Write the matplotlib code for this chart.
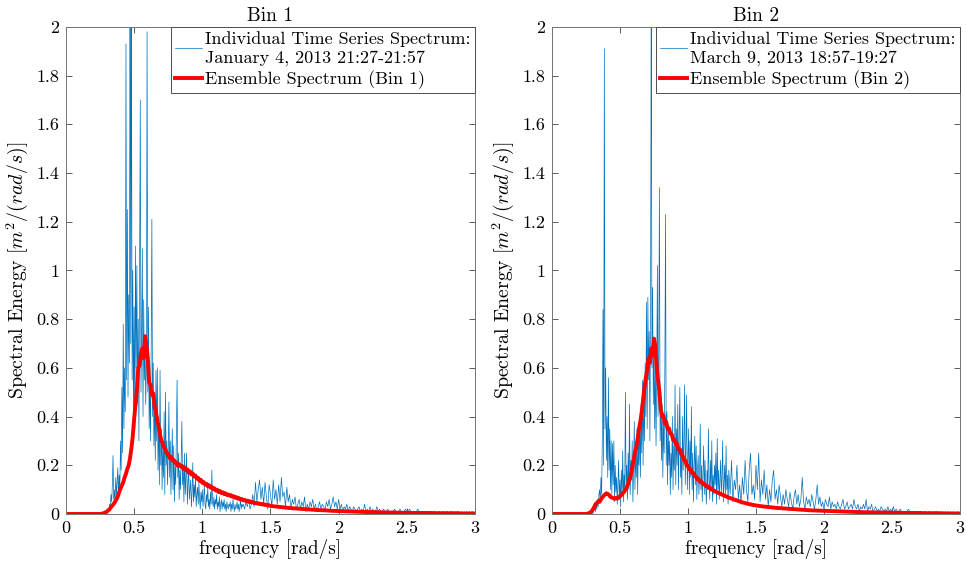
import numpy as np
import matplotlib
matplotlib.use("Agg")
import matplotlib.pyplot as plt
from matplotlib.ticker import FuncFormatter

# ---------------- data ----------------
titles = ["Bin 1", "Bin 2"]
blue_labels = ["Individual Time Series Spectrum:\nJanuary 4, 2013 21:27-21:57",
               "Individual Time Series Spectrum:\nMarch 9, 2013 18:57-19:27"]
red_labels = ["Ensemble Spectrum (Bin 1)", "Ensemble Spectrum (Bin 2)"]
xticks = [0, 0.5, 1, 1.5, 2, 2.5, 3]
yticks = [0, 0.2, 0.4, 0.6, 0.8, 1.0, 1.2, 1.4, 1.6, 1.8, 2.0]

# frequency grids for the individual spectra (rad/s)
f_ind = np.concatenate([np.linspace(0, 0.25, 6),
                        np.linspace(0.30, 1.295, 200),
                        np.linspace(1.30, 3.00, 171)])
# frequency grids for the ensemble spectra (rad/s)
f_ens = np.concatenate([np.linspace(0, 0.20, 5),
                        np.linspace(0.25, 1.49, 125),
                        np.linspace(1.50, 3.00, 31)])

bin1_ind_low = [0, 0, 0, 0, 0, 0]
bin1_ind_mid = [
    0.00, 0.01, 0.02, 0.01, 0.04, 0.03, 0.08, 0.05, 0.12, 0.24,
    0.06, 0.10, 0.04, 0.15, 0.08, 0.13, 0.19, 0.07, 0.16, 0.10,
    0.30, 0.18, 0.52, 0.25, 0.78, 0.35, 0.60, 0.42, 1.93, 0.55,
    1.25, 0.48, 0.90, 0.62, 2.30, 0.70, 2.20, 0.55, 1.00, 0.40,
    0.85, 0.35, 1.10, 0.60, 1.02, 0.45, 0.80, 0.30, 0.95, 1.70,
    0.50, 0.75, 1.09, 0.40, 0.88, 0.55, 0.70, 0.45, 0.62, 1.98,
    0.50, 0.85, 0.35, 0.55, 0.30, 0.70, 1.21, 0.40, 0.62, 0.28,
    0.45, 0.22, 0.59, 0.30, 0.60, 0.18, 0.40, 0.12, 0.59, 0.20,
    0.35, 0.10, 0.28, 0.15, 0.42, 0.08, 0.50, 0.20, 0.30, 0.12,
    0.25, 0.46, 0.15, 0.30, 0.08, 0.22, 0.35, 0.10, 0.28, 0.05,
    0.20, 0.12, 0.32, 0.55, 0.15, 0.25, 0.06, 0.18, 0.10, 0.22,
    0.38, 0.12, 0.20, 0.05, 0.25, 0.08, 0.15, 0.25, 0.04, 0.12,
    0.18, 0.06, 0.10, 0.14, 0.03, 0.09, 0.21, 0.05, 0.12, 0.07,
    0.15, 0.03, 0.08, 0.11, 0.04, 0.13, 0.06, 0.02, 0.09, 0.05,
    0.10, 0.03, 0.07, 0.12, 0.04, 0.02, 0.08, 0.05, 0.11, 0.03,
    0.06, 0.02, 0.09, 0.04, 0.18, 0.05, 0.03, 0.07, 0.02, 0.06,
    0.04, 0.08, 0.02, 0.05, 0.03, 0.07, 0.01, 0.04, 0.06, 0.02,
    0.05, 0.03, 0.06, 0.02, 0.04, 0.01, 0.05, 0.03, 0.02, 0.04,
    0.03, 0.05, 0.01, 0.04, 0.02, 0.06, 0.03, 0.01, 0.04, 0.02,
    0.03, 0.05, 0.02, 0.04, 0.01, 0.03, 0.06, 0.02, 0.04, 0.03]
bin1_ind_high = [
    0.04, 0.02, 0.05, 0.03, 0.06, 0.02, 0.04, 0.08, 0.03, 0.13,
    0.05, 0.10, 0.14, 0.06, 0.11, 0.04, 0.13, 0.07, 0.02, 0.12,
    0.08, 0.03, 0.14, 0.06, 0.10, 0.04, 0.12, 0.05, 0.15, 0.07,
    0.09, 0.03, 0.11, 0.05, 0.08, 0.02, 0.06, 0.04, 0.07, 0.02,
    0.04, 0.06, 0.02, 0.05, 0.03, 0.07, 0.01, 0.04, 0.02, 0.05,
    0.03, 0.06, 0.02, 0.04, 0.01, 0.03, 0.05, 0.02, 0.04, 0.03,
    0.02, 0.05, 0.03, 0.06, 0.02, 0.04, 0.07, 0.03, 0.05, 0.02,
    0.06, 0.02, 0.04, 0.01, 0.03, 0.02, 0.04, 0.01, 0.03, 0.02,
    0.01, 0.03, 0.02, 0.01, 0.02, 0.03, 0.01, 0.02, 0.01, 0.04,
    0.01, 0.02, 0.01, 0.03, 0.01, 0.02, 0.01, 0.01, 0.03, 0.01,
    0.02, 0.01, 0.01, 0.02, 0.01, 0.01, 0.02, 0.01, 0.01, 0.01,
    0.01, 0.02, 0.01, 0.01, 0.01, 0.02, 0.01, 0.01, 0.01, 0.02,
    0.01, 0.01, 0.02, 0.01, 0.01, 0.01, 0.01, 0.01, 0.02, 0.01,
    0.01, 0.01, 0.01, 0.01, 0.01, 0.01, 0.01, 0.01, 0.01, 0.01,
    0.01, 0.01, 0.00, 0.01, 0.01, 0.00, 0.01, 0.01, 0.00, 0.01,
    0.01, 0.00, 0.01, 0.01, 0.00, 0.01, 0.00, 0.01, 0.01, 0.00,
    0.01, 0.00, 0.01, 0.00, 0.01, 0.00, 0.01, 0.00, 0.01, 0.00, 0.00]

bin2_ind_low = [0, 0, 0, 0, 0, 0]
bin2_ind_mid = [
    0.00, 0.01, 0.02, 0.03, 0.01, 0.04, 0.02, 0.06, 0.03, 0.08,
    0.10, 0.05, 0.15, 0.08, 0.30, 0.84, 0.20, 1.91, 0.35, 0.60,
    0.22, 0.40, 0.15, 0.56, 0.18, 0.35, 0.10, 0.30, 0.08, 0.29,
    0.12, 0.30, 0.05, 0.20, 0.09, 0.15, 0.04, 0.12, 0.22, 0.06,
    0.14, 0.03, 0.18, 0.08, 0.26, 0.05, 0.16, 0.10, 0.50, 0.12,
    0.20, 0.06, 0.25, 0.10, 0.45, 0.08, 0.22, 0.14, 0.30, 0.05,
    0.18, 0.38, 0.10, 0.25, 0.15, 0.35, 0.08, 0.30, 0.20, 0.40,
    0.15, 0.45, 0.25, 0.55, 0.20, 0.48, 0.30, 0.62, 0.40, 0.87,
    0.35, 0.89, 0.55, 0.75, 0.30, 0.85, 2.30, 0.60, 0.93, 0.45,
    0.70, 0.35, 0.62, 0.28, 0.55, 1.02, 0.40, 0.65, 1.34, 0.30,
    0.50, 0.22, 0.45, 0.15, 0.38, 0.25, 0.60, 1.23, 0.20, 0.42,
    0.12, 0.35, 0.20, 0.30, 0.08, 0.25, 0.15, 0.40, 0.10, 0.28,
    0.18, 0.53, 0.12, 0.35, 0.20, 0.45, 0.10, 0.30, 0.52, 0.15,
    0.25, 0.08, 0.40, 0.18, 0.30, 0.53, 0.12, 0.28, 0.49, 0.10,
    0.22, 0.35, 0.08, 0.30, 0.15, 0.44, 0.10, 0.25, 0.05, 0.20,
    0.32, 0.12, 0.28, 0.06, 0.18, 0.24, 0.08, 0.15, 0.37, 0.10,
    0.20, 0.05, 0.16, 0.28, 0.08, 0.22, 0.12, 0.04, 0.18, 0.10,
    0.35, 0.14, 0.06, 0.22, 0.10, 0.30, 0.05, 0.16, 0.08, 0.20,
    0.12, 0.25, 0.04, 0.31, 0.10, 0.18, 0.06, 0.14, 0.22, 0.08,
    0.15, 0.30, 0.05, 0.12, 0.20, 0.08, 0.28, 0.10, 0.16, 0.04]
bin2_ind_high = [
    0.18, 0.08, 0.22, 0.05, 0.14, 0.10, 0.20, 0.06, 0.12, 0.04,
    0.15, 0.08, 0.22, 0.10, 0.05, 0.18, 0.25, 0.08, 0.12, 0.06,
    0.20, 0.10, 0.25, 0.05, 0.14, 0.08, 0.18, 0.06, 0.12, 0.03,
    0.10, 0.05, 0.14, 0.18, 0.06, 0.10, 0.04, 0.12, 0.07, 0.03,
    0.08, 0.04, 0.10, 0.06, 0.03, 0.09, 0.05, 0.02, 0.07, 0.10,
    0.04, 0.08, 0.03, 0.06, 0.15, 0.05, 0.02, 0.07, 0.04, 0.06,
    0.03, 0.08, 0.05, 0.02, 0.06, 0.12, 0.04, 0.07, 0.03, 0.05,
    0.02, 0.06, 0.04, 0.03, 0.07, 0.02, 0.05, 0.03, 0.04, 0.02,
    0.05, 0.03, 0.02, 0.04, 0.06, 0.02, 0.03, 0.05, 0.02, 0.03,
    0.04, 0.02, 0.06, 0.03, 0.02, 0.04, 0.01, 0.03, 0.02, 0.04,
    0.02, 0.06, 0.01, 0.03, 0.02, 0.04, 0.01, 0.02, 0.03, 0.01,
    0.02, 0.01, 0.03, 0.02, 0.01, 0.02, 0.01, 0.03, 0.01, 0.02,
    0.01, 0.03, 0.01, 0.02, 0.01, 0.01, 0.02, 0.01, 0.01, 0.01,
    0.01, 0.01, 0.02, 0.01, 0.01, 0.01, 0.01, 0.01, 0.01, 0.01,
    0.01, 0.01, 0.01, 0.00, 0.01, 0.01, 0.00, 0.01, 0.01, 0.00,
    0.01, 0.00, 0.01, 0.01, 0.00, 0.01, 0.00, 0.01, 0.00, 0.01,
    0.00, 0.01, 0.00, 0.01, 0.00, 0.01, 0.00, 0.00, 0.01, 0.00, 0.00]

bin1_ens_low = [0, 0, 0, 0, 0]
bin1_ens_mid = [
    0.000, 0.001, 0.002, 0.004, 0.007,
    0.010, 0.015, 0.020, 0.028, 0.035, 0.042, 0.050, 0.060, 0.072, 0.090,
    0.105, 0.118, 0.130, 0.150, 0.165, 0.185, 0.200, 0.230, 0.270, 0.320,
    0.390, 0.450, 0.510, 0.600, 0.610, 0.660, 0.680, 0.640, 0.730, 0.690,
    0.640, 0.540, 0.530, 0.490, 0.495, 0.440, 0.420, 0.380, 0.360, 0.325,
    0.300, 0.290, 0.272, 0.265, 0.248, 0.245, 0.230, 0.235, 0.220, 0.222,
    0.210, 0.212, 0.198, 0.205, 0.195, 0.198, 0.185, 0.192, 0.180, 0.183,
    0.170, 0.175, 0.162, 0.166, 0.154, 0.158, 0.145, 0.148, 0.136, 0.140,
    0.128, 0.131, 0.121, 0.124, 0.114, 0.118, 0.108, 0.111, 0.102, 0.105,
    0.096, 0.099, 0.090, 0.094, 0.086, 0.089, 0.082, 0.085, 0.078, 0.080,
    0.075, 0.077, 0.071, 0.073, 0.067, 0.069, 0.063, 0.065, 0.060, 0.061,
    0.056, 0.058, 0.053, 0.055, 0.050, 0.052, 0.048, 0.049, 0.045, 0.046,
    0.043, 0.044, 0.041, 0.042, 0.039, 0.040, 0.037, 0.038, 0.035, 0.036]
bin1_ens_high = [
    0.033, 0.030, 0.027, 0.024, 0.022, 0.020, 0.018, 0.016, 0.015, 0.013, 0.012,
    0.011, 0.010, 0.009, 0.008, 0.008, 0.007, 0.006, 0.006, 0.005, 0.005,
    0.004, 0.004, 0.004, 0.003, 0.003, 0.003, 0.003, 0.002, 0.002, 0.002]

bin2_ens_low = [0, 0, 0, 0, 0]
bin2_ens_mid = [
    0.000, 0.001, 0.003, 0.006, 0.010,
    0.018, 0.028, 0.040, 0.045, 0.052, 0.050, 0.060, 0.068, 0.075, 0.080,
    0.085, 0.082, 0.078, 0.070, 0.068, 0.065, 0.062, 0.066, 0.063, 0.070,
    0.072, 0.078, 0.085, 0.090, 0.100, 0.110, 0.125, 0.140, 0.160, 0.190,
    0.220, 0.250, 0.275, 0.310, 0.350, 0.380, 0.420, 0.470, 0.520, 0.560,
    0.590, 0.640, 0.620, 0.680, 0.650, 0.720, 0.690, 0.600, 0.550, 0.500,
    0.430, 0.400, 0.405, 0.370, 0.378, 0.350, 0.352, 0.330, 0.328, 0.305,
    0.305, 0.285, 0.288, 0.265, 0.266, 0.245, 0.240, 0.222, 0.220, 0.200,
    0.198, 0.183, 0.184, 0.168, 0.168, 0.155, 0.153, 0.142, 0.142, 0.132,
    0.132, 0.123, 0.124, 0.115, 0.116, 0.108, 0.108, 0.101, 0.101, 0.095,
    0.094, 0.089, 0.088, 0.084, 0.083, 0.079, 0.078, 0.074, 0.073, 0.069,
    0.068, 0.065, 0.064, 0.061, 0.060, 0.057, 0.056, 0.053, 0.052, 0.049,
    0.048, 0.046, 0.045, 0.043, 0.042, 0.040, 0.040, 0.038, 0.037, 0.036]
bin2_ens_high = [
    0.035, 0.031, 0.028, 0.025, 0.023, 0.021, 0.019, 0.017, 0.015, 0.014, 0.013,
    0.012, 0.011, 0.010, 0.009, 0.008, 0.007, 0.007, 0.006, 0.006, 0.005,
    0.005, 0.004, 0.004, 0.004, 0.003, 0.003, 0.003, 0.002, 0.002, 0.002]

ind_series = [bin1_ind_low + bin1_ind_mid + bin1_ind_high,
              bin2_ind_low + bin2_ind_mid + bin2_ind_high]
ens_series = [bin1_ens_low + bin1_ens_mid + bin1_ens_high,
              bin2_ens_low + bin2_ens_mid + bin2_ens_high]

# ---------------- style ----------------
plt.rcParams['font.family'] = ['cmr10', 'DejaVu Serif']
plt.rcParams['mathtext.fontset'] = 'cm'
plt.rcParams['axes.formatter.use_mathtext'] = True

fig = plt.figure(figsize=(9.66, 5.69), dpi=100)
positions = [[0.0683, 0.0967, 0.4234, 0.856],
             [0.5714, 0.0967, 0.4224, 0.856]]

fmt = FuncFormatter(lambda v, p: ('%g' % round(v, 2)))

for i in range(2):
    ax = fig.add_axes(positions[i])
    ax.plot(f_ind, ind_series[i], color='#0072BD', lw=0.5,
            label=blue_labels[i])
    ax.plot(f_ens, ens_series[i], color='#FF0000', lw=2.8,
            label=red_labels[i])
    ax.set_xlim(0, 3)
    ax.set_ylim(0, 2)
    ax.set_xticks(xticks)
    ax.set_yticks(yticks)
    ax.xaxis.set_major_formatter(fmt)
    ax.yaxis.set_major_formatter(fmt)
    ax.tick_params(direction='in', length=4, width=0.6, color='0.25',
                   top=True, right=True, labelsize=13, pad=5)
    for s in ax.spines.values():
        s.set_color('0.45')
        s.set_linewidth(0.7)
    ax.set_title(titles[i], fontsize=14, pad=4)
    ax.set_xlabel('frequency [rad/s]', fontsize=13.8, labelpad=2)
    ax.set_ylabel(r'Spectral Energy [$m^2/(rad/s)$]', fontsize=14.3, labelpad=4)
    leg = ax.legend(loc='upper right', borderaxespad=0, fontsize=13,
                    handlelength=1.5, handletextpad=0.15, borderpad=0.25,
                    labelspacing=0.25, fancybox=False, framealpha=1,
                    edgecolor='0.3')
    leg.get_frame().set_linewidth(0.7)

fig.savefig('out.png', dpi=100)
